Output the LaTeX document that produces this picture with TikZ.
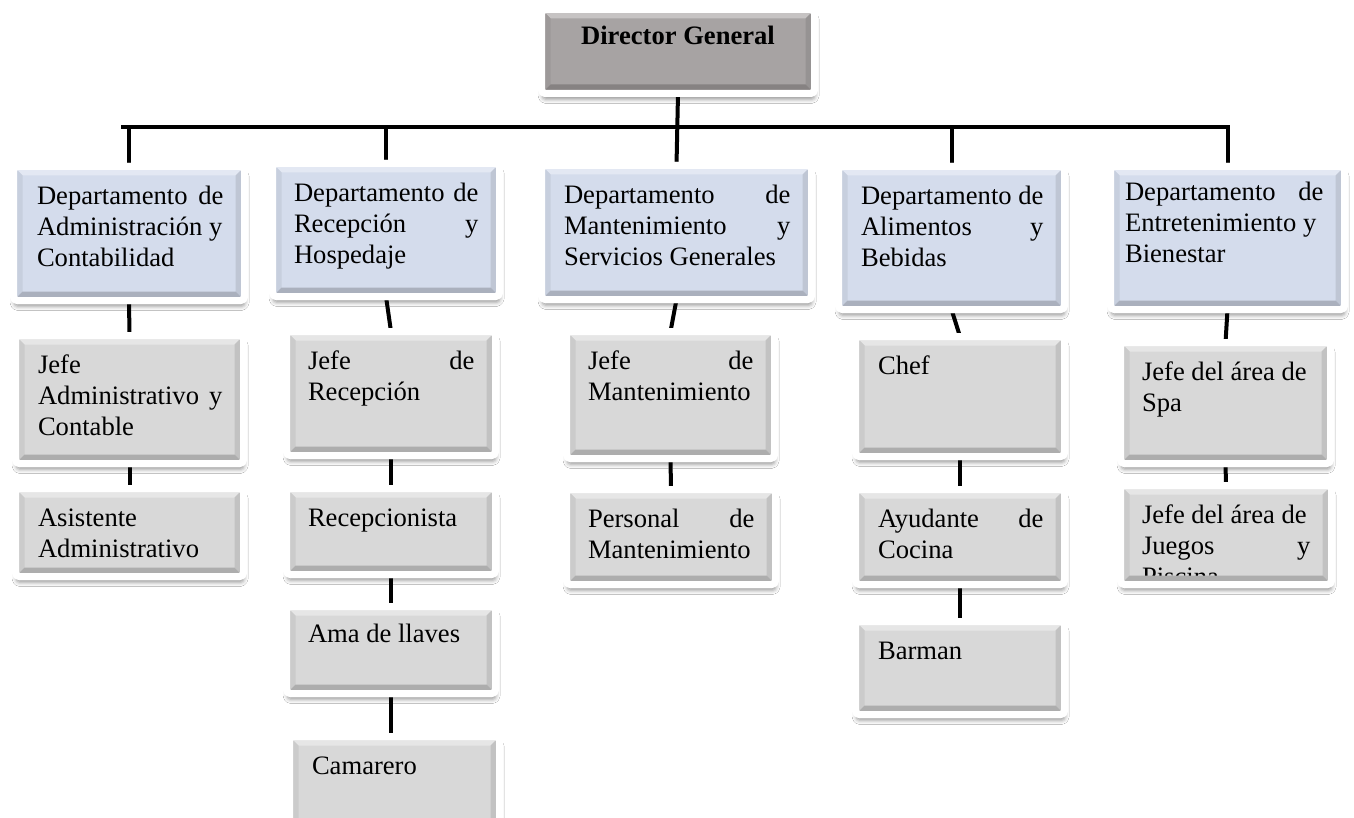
\documentclass[tikz,border=0pt]{standalone}
\usepackage{fontspec}
\setmainfont{Liberation Serif}
\usetikzlibrary{shadows.blur,backgrounds}

\definecolor{dirgray}{RGB}{167,163,163}
\definecolor{deptblue}{RGB}{212,220,236}
\definecolor{boxgray}{RGB}{216,216,216}

\newdimen\olp \newdimen\orp
\newcommand\tline[1]{\hbox to \hsize{\hskip\olp #1\hfil\hskip\orp}}

\tikzset{
  orgbox/.style={draw=white, line width=3.5pt, rounded corners=2pt, inner sep=0pt, outer sep=0pt,
    font=\fontsize{13.3pt}{15.5pt}\selectfont,
    blur shadow={shadow xshift=0.3pt,shadow yshift=-3pt,shadow blur radius=2pt,shadow opacity=40}},
  dirbox/.style={orgbox, fill=dirgray},
  deptbox/.style={orgbox, fill=deptblue},
  staffbox/.style={orgbox, fill=boxgray},
  link/.style={line width=2pt, black},
}

% [left pad px]{name}{style}{x1}{y1}{x2}{y2}{lines}  (outer frame, pixels)
\newcommand\orgnode[8][18.5]{%
  \pgfmathsetmacro\obw{(#6-#4-7)*0.5}%
  \pgfmathsetmacro\obh{(#7-#5-7)*0.5}%
  \pgfmathsetmacro\olpv{(#1+3.5)*0.5}%
  \node[#3, minimum width=\obw pt, minimum height=\obh pt] (#2) at ({(#4+#6)/2},{(#5+#7)/2})
    {\vbox to \obh pt{\hsize=\obw pt \olp=\olpv pt\relax \orp=10.5pt\relax \hbox{}\vskip 3.5pt #8\vss}};%
}

\newcommand\bevel[2]{%
  \path ([xshift=1.75pt,yshift=-1.75pt]#1.north west) coordinate (q1)
        ([xshift=-1.75pt,yshift=-1.75pt]#1.north east) coordinate (q2)
        ([xshift=-1.75pt,yshift=1.75pt]#1.south east) coordinate (q3)
        ([xshift=1.75pt,yshift=1.75pt]#1.south west) coordinate (q4)
        ([xshift=4.5pt,yshift=-4.5pt]#1.north west) coordinate (p1)
        ([xshift=-4.5pt,yshift=-4.5pt]#1.north east) coordinate (p2)
        ([xshift=-4.5pt,yshift=4.5pt]#1.south east) coordinate (p3)
        ([xshift=4.5pt,yshift=4.5pt]#1.south west) coordinate (p4);
  \fill[#2!65!white] (q1)--(q2)--(p2)--(p1)--cycle;
  \fill[#2!94!black] (q1)--(p1)--(p4)--(q4)--cycle;
  \fill[#2!90!black] (q2)--(q3)--(p3)--(p2)--cycle;
  \fill[#2!80!black] (q4)--(p4)--(p3)--(q3)--cycle;
  \draw[white, line width=3.5pt, rounded corners=2pt] (#1.north west) rectangle (#1.south east);
}

\begin{document}
\begin{tikzpicture}[x=0.5pt,y=-0.5pt]
\useasboundingbox (0,0) rectangle (1354,818);
\clip (0,0) rectangle (1354,818);

% top
\orgnode{D}{dirbox}{538}{6}{818}{97}{\vskip-1.5pt\hbox to \hsize{\hfil\bfseries Director General\hfil}}

% departments
\orgnode[20]{d1}{deptbox}{10}{163}{248}{304}{\tline{Departamento\hfill de}\tline{Administración y}\tline{Contabilidad}}
\orgnode[18]{d2}{deptbox}{269}{160}{503}{300}{\tline{Departamento\hfill de}\tline{Recepción\hfill y}\tline{Hospedaje}}
\orgnode[19]{d3}{deptbox}{538}{162}{815}{303}{\tline{Departamento\hfill de}\tline{Mantenimiento\hfill y}\tline{Servicios Generales}}
\orgnode[19]{d4}{deptbox}{835}{163}{1068}{313}{\tline{Departamento\hfill de}\tline{Alimentos\hfill y}\tline{Bebidas}}
\orgnode[11]{d5}{deptbox}{1107}{163}{1348}{313}{\vskip-2pt\tline{Departamento\hfill de}\tline{Entretenimiento y}\tline{Bienestar}}

% column 1
\orgnode[19]{a1}{staffbox}{12}{332}{247}{467}{\tline{Jefe}\tline{Administrativo\hfill y}\tline{Contable}}
\orgnode[19]{a2}{staffbox}{12}{485}{247}{580}{\tline{Asistente}\tline{Administrativo}}

% column 2
\orgnode[18]{r1}{staffbox}{283}{328}{499}{459}{\tline{Jefe\hfill de}\tline{Recepción}}
\orgnode[18]{r2}{staffbox}{283}{485}{499}{578}{\tline{Recepcionista}}
\orgnode[18]{r3}{staffbox}{283}{603}{499}{697}{\vskip-1pt\tline{Ama de llaves}}
\orgnode[19]{r4}{staffbox}{286}{733}{503}{840}{\tline{Camarero}}

% column 3
\orgnode[18]{m1}{staffbox}{563}{328}{778}{462}{\tline{Jefe\hfill de}\tline{Mantenimiento}}
\orgnode[18]{m2}{staffbox}{563}{486}{779}{588}{\tline{Personal\hfill de}\tline{Mantenimiento}}

% column 4
\orgnode[19]{c1}{staffbox}{852}{333}{1068}{460}{\tline{Chef}}
\orgnode[19]{c2}{staffbox}{852}{486}{1068}{588}{\tline{Ayudante\hfill de}\tline{Cocina}}
\orgnode[19]{c3}{staffbox}{852}{618}{1068}{718}{\tline{Barman}}

% column 5
\orgnode[18]{s1}{staffbox}{1117}{339}{1334}{467}{\tline{Jefe del área de}\tline{Spa}}
\orgnode[18]{s2}{staffbox}{1117}{482}{1335}{588}{\tline{Jefe del área de}\tline{Juegos\hfill y}\tline{Piscina}}

% bevels and frames on top
\bevel{D}{dirgray}
\bevel{d1}{deptblue}\bevel{d2}{deptblue}\bevel{d3}{deptblue}\bevel{d4}{deptblue}\bevel{d5}{deptblue}
\bevel{a1}{boxgray}\bevel{a2}{boxgray}
\bevel{r1}{boxgray}\bevel{r2}{boxgray}\bevel{r3}{boxgray}\bevel{r4}{boxgray}
\bevel{m1}{boxgray}\bevel{m2}{boxgray}
\bevel{c1}{boxgray}\bevel{c2}{boxgray}\bevel{c3}{boxgray}
\bevel{s1}{boxgray}\bevel{s2}{boxgray}

% connectors
\begin{pgfonlayer}{background}
\fill[white] (0,0) rectangle (1354,818);
\coordinate (busL) at (121,127);
\coordinate (busR) at (d5.north |- busL);
\draw[link] (D.south) -- (d3.north);
\draw[link] (busL) -- (busR) -- (d5.north);
\draw[link] (d1.north |- busL) -- (d1.north);
\draw[link] (d2.north |- busL) -- (d2.north);
\draw[link] (d4.north |- busL) -- (d4.north);
\draw[link] (d1.south) -- (a1.north);
\draw[link] (a1.south) -- (a2.north);
\draw[link] (d2.south) -- (r1.north);
\draw[link] (r1.south) -- (r2.north);
\draw[link] (r2.south) -- (r3.north);
\draw[link] (r3.south) -- (r3.south |- r4.north);
\draw[link] (d3.south) -- (m1.north);
\draw[link] (m1.south) -- (m2.north);
\draw[link] (d4.south) -- (c1.north);
\draw[link] (c1.south) -- (c2.north);
\draw[link] (c2.south) -- (c3.north);
\draw[link] (d5.south) -- (s1.north);
\draw[link] (s1.south) -- (s2.north);
\end{pgfonlayer}
\end{tikzpicture}
\end{document}
